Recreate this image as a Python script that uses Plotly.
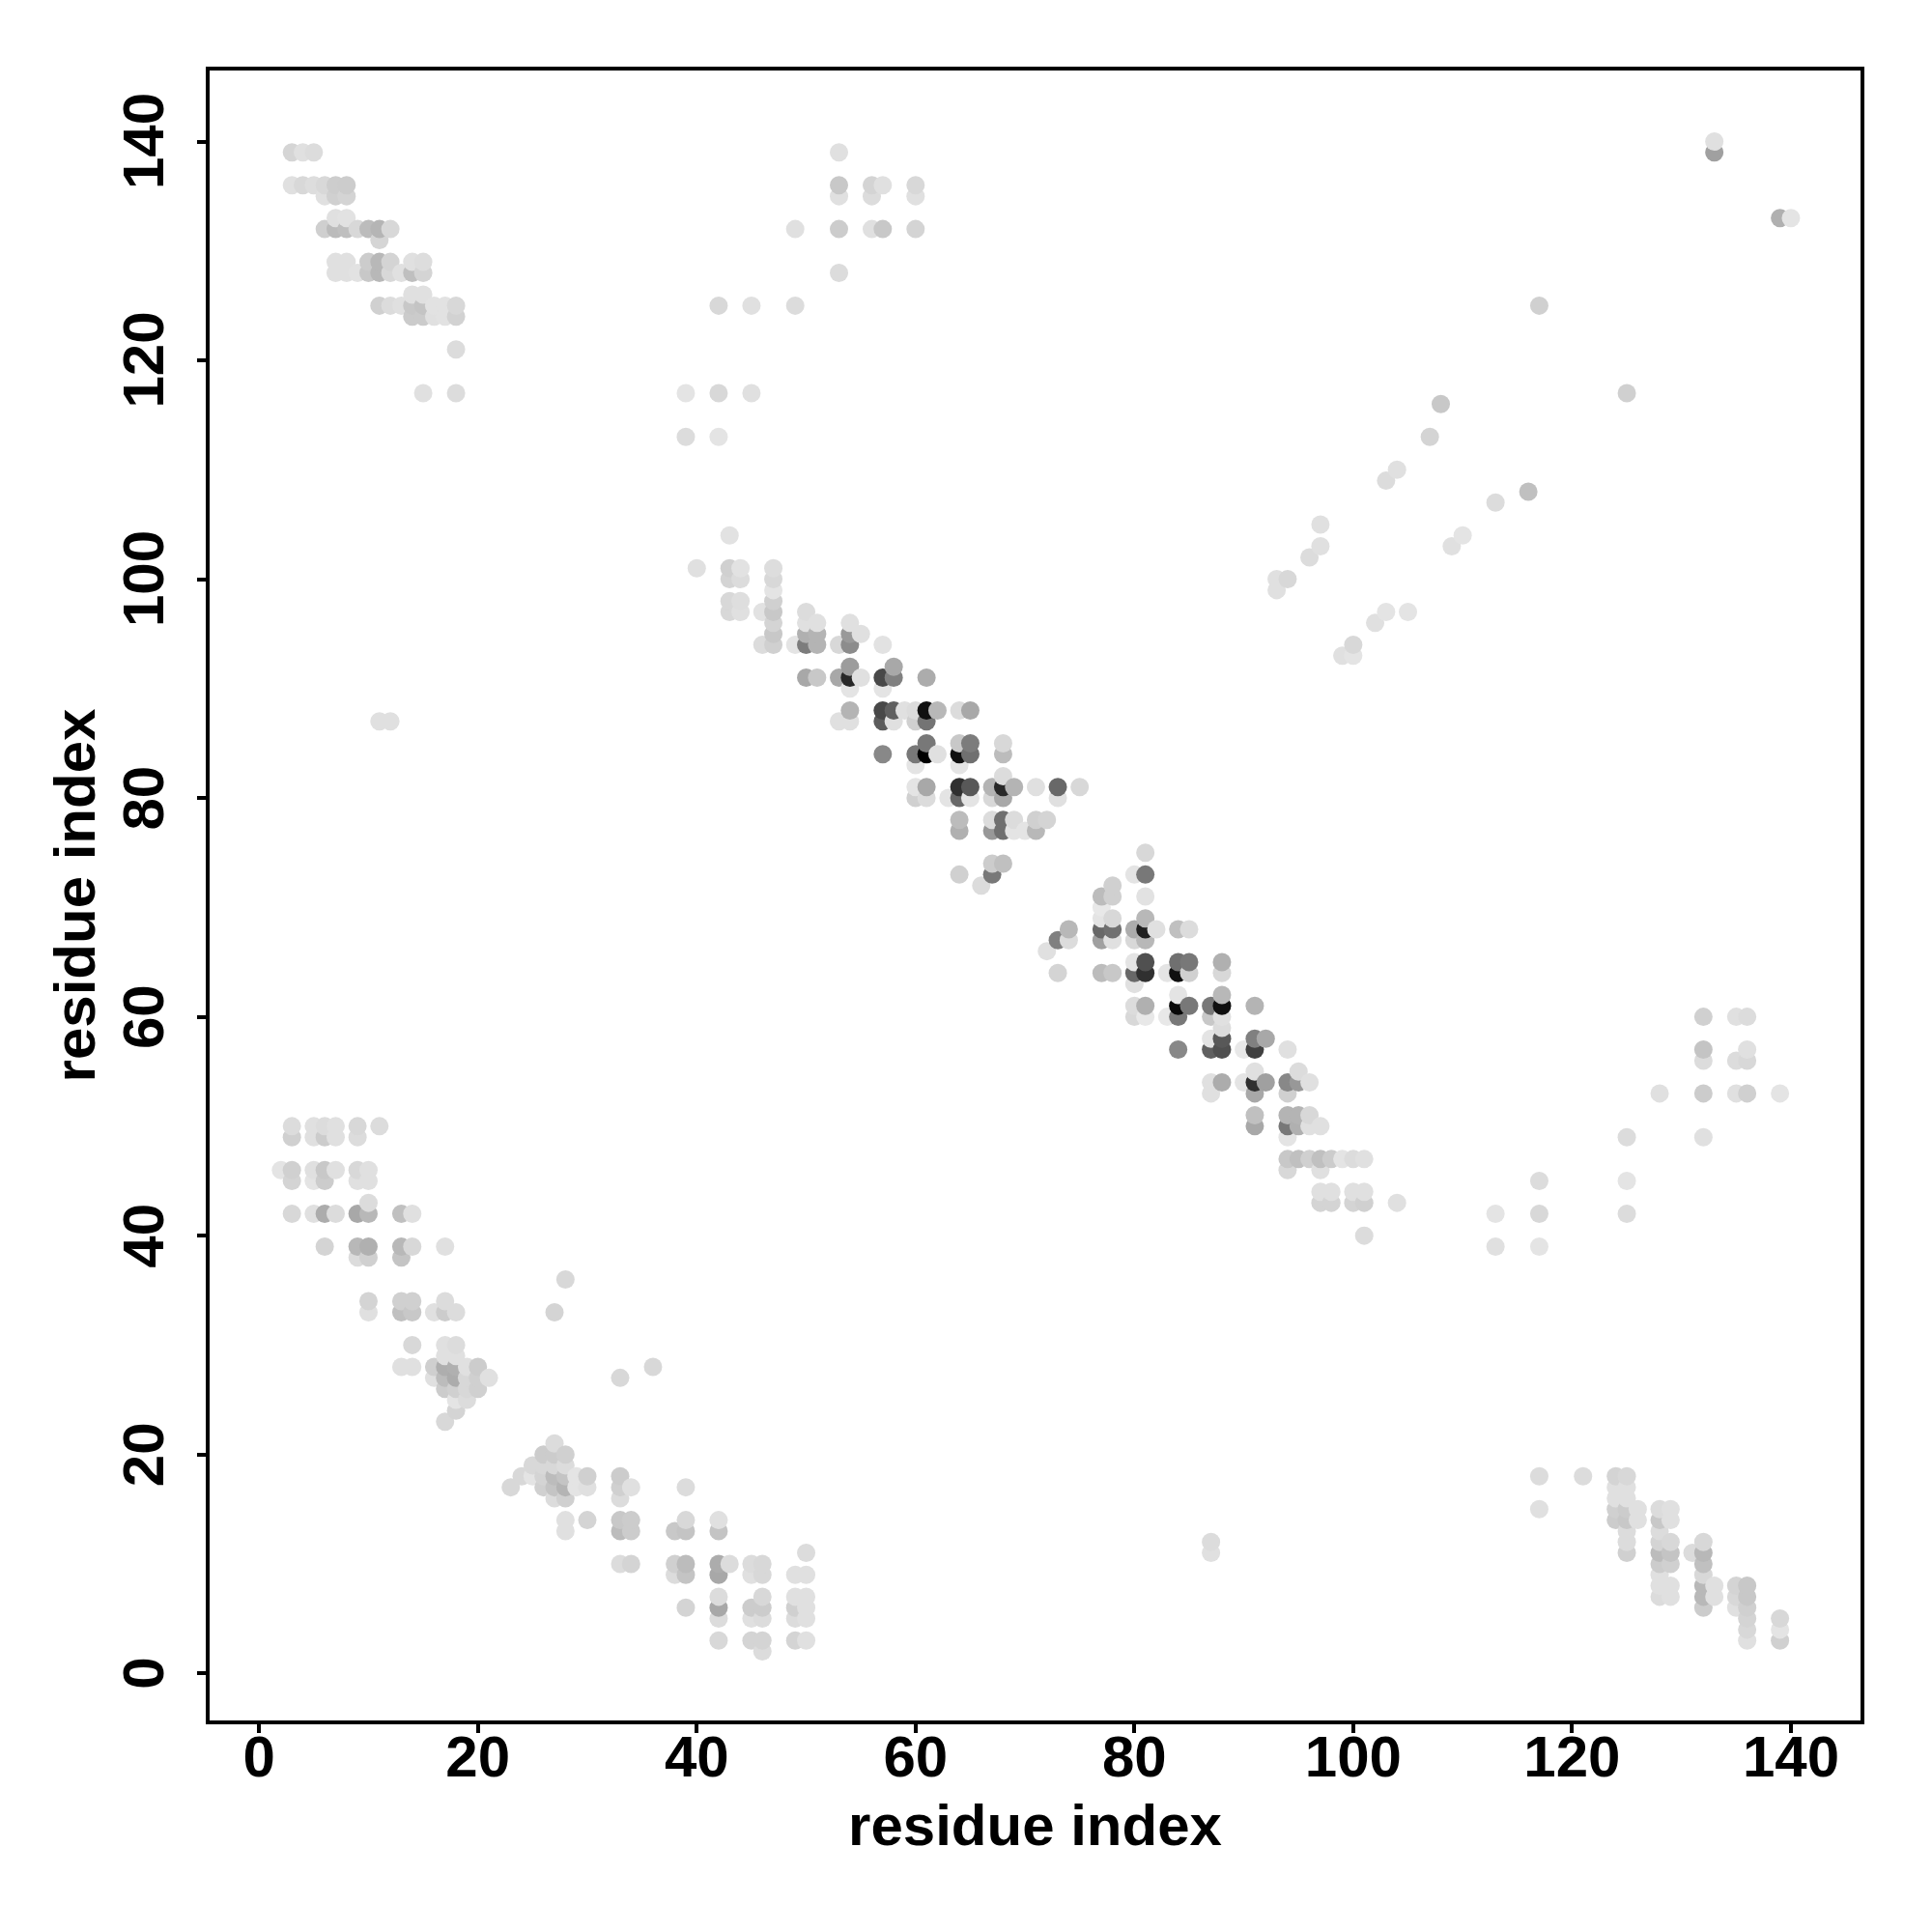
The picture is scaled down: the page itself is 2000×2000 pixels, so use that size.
import plotly.graph_objects as go

FONT = "Liberation Sans"
TICKS = [0, 20, 40, 60, 80, 100, 120, 140]
AXIS_TITLE = "<b>residue index</b>"

# gray level of every contact is stored with its residue pair
upper_left_x = [3,4,5, 3,4,5,6,7,8, 6,7,8, 7,8, 6,7,8,9,10,11,12, 11,
                7,8,10,11,12,14,15, 7,8,9,10,11,12,13,14,15, 14,15,
                11,12,13,14,15,16,17,18, 14,15,16,17,18, 18, 15,18]
upper_left_y = [139,139,139, 136,136,136,136,136,136, 135,135,135, 133,133,
                132,132,132,132,132,132,132, 131,
                129,129,129,129,129,129,129, 128,128,128,128,128,128,128,128,128, 126,126,
                125,125,125,125,125,125,125,125, 124,124,124,124,124, 121, 117,117]
upper_left_g = [0xd5,0xe0,0xdc, 0xe0,0xd8,0xdd,0xd8,0xcd,0xcc, 0xe0,0xd0,0xd4, 0xe0,0xe2,
                0xcf,0xbb,0xbf,0xd8,0xbc,0xb5,0xd8, 0xd5,
                0xe0,0xe0,0xcc,0xb8,0xd4,0xe0,0xdd, 0xe0,0xe0,0xe2,0xc8,0xb8,0xd8,0xe0,0xbf,0xd4, 0xe0,0xe0,
                0xd0,0xdc,0xe0,0xc8,0xc4,0xe2,0xe2,0xd8, 0xcb,0xcb,0xe0,0xe2,0xd2, 0xdc, 0xe0,0xdc]

diag_a_x = [43, 40,43,44,47, 43,44,47, 47, 43,44,47, 43,44,46,47,50, 47,50,51,54,
            47,50,51,54,55, 46,47,49,50,51,53,54,57, 54,58,
            50,51,53,54,55,57,58,61, 54,57, 54,57,58,59,60,61,62,64,65,
            53,54,57,58,60,61, 61,64,65,68, 57,60,61,62,64,65,68, 60,64, 68,
            60,61,64,65,67,68,69,71,73,75, 60,61,63,64,65,67,68,73,
            64,67,68,69,71,72, 64,67,68,69,70,71, 67,68, 64,67, 66]
diag_a_y = [104, 101,101,101,101, 100,100,100, 99, 98,98,98, 97,97,97,97,97, 96,96,96,96,
            95,95,95,95,95, 94,94,94,94,94,94,94,94, 92,92,
            91,91,91,91,91,91,91,91, 90,90, 88,88,88,88,88,88,88,88,88,
            87,87,87,87,87,87, 85,85,85,85, 84,84,84,84,84,84,84, 83,83, 82,
            81,81,81,81,81,81,81,81,81,81, 80,80,80,80,80,80,80,80,
            78,78,78,78,78,78, 77,77,77,77,77,77, 74,74, 73,73, 72]
diag_a_g = [0xe2, 0xe0,0xd0,0xe2,0xdd, 0xd4,0xdc,0xd8, 0xe4, 0xd8,0xde,0xd0, 0xd8,0xe0,0xe2,0xc8,0xdc, 0xd4,0xe0,0xe0,0xe0,
            0xc8,0xb0,0xb4,0x99,0xe0, 0xdc,0xd0,0xe4,0x7c,0xb4,0xd8,0x8c,0xe2, 0x9c,0xa8,
            0xa8,0xc8,0xa8,0x28,0xe0,0x48,0x80,0xac, 0xe4,0xe4, 0xb4,0x48,0x60,0xe0,0xdc,0x10,0xb8,0xdc,0xa8,
            0xe0,0xe0,0x5c,0xe0,0xd0,0x74, 0x78,0xc8,0x7c,0xd8, 0x88,0x78,0x00,0xe0,0x10,0x70,0xbc, 0xe4,0xe4, 0xdc,
            0xe4,0xa8,0x30,0x58,0xb4,0x28,0xb4,0xe0,0x68,0xd8, 0xd0,0xdc,0xe4,0x68,0xe4,0xd8,0xa8,0xe0,
            0xbc,0xdc,0x70,0xdc,0xd0,0xd4, 0xb0,0x98,0x70,0xe4,0xe4,0xb8, 0xcc,0xc0, 0xd0,0x78, 0xdc]

diag_b_x = [81, 80,81, 78, 77,78,81, 77, 77,78,81, 74,77,78,80,81,82,84,85, 73,74,77,78,80,81, 72,
            80,81,84,85,88, 73,77,78,80,81,83,84,85,88, 80, 84,88,
            80,81,84,85,87,88,91, 80,81,83,84,87,88, 88, 87,88,91,92,
            84,87,88,90,91,94, 91,95, 87,88,90,91,92,94,95,96, 87,91,94,
            91,94,95,96, 91,94,95,96,97, 94, 94,95,96,97,98,99,100,101, 94,97,
            97,98,100,101, 97,98,100,101,104, 101]
diag_b_y = [75, 73,73, 72, 71,71,71, 70, 69,69,69, 68,68,68,68,68,68,68,68, 67,67,67,67,67,67, 66,
            65,65,65,65,65, 64,64,64,64,64,64,64,64,64, 63, 62,62,
            61,61,61,61,61,61,61, 60,60,60,60,60,60, 59, 58,58,58,58,
            57,57,57,57,57,57, 55,55, 54,54,54,54,54,54,54,54, 53,53,53,
            51,51,51,51, 50,50,50,50,50, 49, 47,47,47,47,47,47,47,47, 46,46,
            44,44,44,44, 43,43,43,43,43, 40]
diag_b_g = [0xd8, 0xe4,0x78, 0xd0, 0xbc,0xd0,0xe2, 0xe8, 0xe4,0xd8,0xb8, 0xb8,0x68,0x70,0xac,0x20,0xe0,0xc0,0xdc, 0x80,0xdc,0xa0,0xe0,0xd8,0xb8, 0xe0,
            0xe4,0x50,0x70,0x78,0xb0, 0xd4,0xbc,0xc8,0x68,0x30,0xe4,0x10,0xd0,0xd8, 0xe0, 0xe4,0xb8,
            0xdc,0xb0,0x08,0x78,0x78,0x10,0xb4, 0xd8,0xe8,0xe8,0x78,0xc8,0xe0, 0xdc, 0xe4,0x58,0x80,0xa8,
            0x88,0x60,0x50,0xe8,0x40,0xe0, 0xe0,0xdc, 0xe0,0xac,0xe4,0x30,0xa0,0x88,0x98,0xe0, 0xe0,0xa8,0xd0,
            0xc0,0xb4,0xb4,0xd8, 0xa8,0x78,0xb0,0xe0,0xe0, 0xe4, 0xc8,0xc0,0xd0,0xc0,0xcc,0xe4,0xdc,0xe0, 0xd8,0xe0,
            0xe0,0xe0,0xe0,0xe0, 0xd4,0xd4,0xd4,0xd0,0xe0, 0xdc]

lower_left_x = [3,5,6,7,9,11, 3,5,6,7,9, 2,3,5,6,7,9,10, 3,5,6,9,10, 10,
                3,5,6,7,9,10,13,14, 6,9,10,13,14,17, 9,10,13,
                10,13,14,17, 10,13,14,16,17,18, 28, 27,
                14,17,18, 17,18, 13,14,16,17,18,19,20,36, 16,17,18,19,20,21,33,
                17,18,19,20, 18,19, 18, 17]
lower_left_y = [50,50,50,50,50,50, 49,49,49,49,49, 46,46,46,46,46,46,46, 45,45,45,45,45, 43,
                42,42,42,42,42,42,42,42, 39,39,39,39,39,39, 38,38,38,
                34,34,34,34, 33,33,33,33,33,33, 36, 33,
                30,30,30, 29,29, 28,28,28,28,28,28,28,28, 27,27,27,27,27,27,27,
                26,26,26,26, 25,25, 24, 23]
lower_left_g = [0xdc,0xe0,0xdc,0xe0,0xd8,0xdc, 0xd0,0xe0,0xcc,0xe0,0xdc, 0xe4,0xd0,0xe0,0xc8,0xe0,0xd8,0xe0, 0xd4,0xe4,0xcc,0xe0,0xe0, 0xdc,
                0xd8,0xe0,0xac,0xdc,0xa8,0xb8,0xc0,0xe0, 0xd4,0xb8,0xb0,0xb8,0xd8,0xe0, 0xdc,0xd0,0xc4,
                0xd4,0xd0,0xd0,0xdc, 0xe0,0xc0,0xc8,0xe0,0xcc,0xdc, 0xd8, 0xd4,
                0xd8,0xe0,0xdc, 0xe0,0xe0, 0xe0,0xe0,0xcf,0xae,0xb0,0xe0,0xcc,0xd8, 0xe0,0xbc,0xac,0xd8,0xd0,0xe0,0xd8,
                0xcc,0xd0,0xd8,0xd0, 0xe4,0xdc, 0xd4, 0xd8]

lower_mid_x = [27, 26,27,28, 25,26,27,28, 24,25,26,27,28,29,30,33, 23,26,27,28,29,30,33,34,39, 27,28,33,
               28,30,33,34,39,42, 28,33,34,38,39,42, 50,
               33,34,38,39,42,43,45,46, 38,39,42,45,46,49,50,
               42,46,49,50, 39,42,45,46,49,50, 42,45,46,49,50, 42,45,46,49,50, 46, 87, 87]
lower_mid_y = [21, 20,20,20, 19,19,19,19, 18,18,18,18,18,18,18,18, 17,17,17,17,17,17,17,17,17, 16,16,16,
               14,14,14,14,14,14, 13,13,13,13,13,13, 11,
               10,10,10,10,10,10,10,10, 9,9,9,9,9,9,9,
               7,7,7,7, 6,6,6,6,6,6, 5,5,5,5,5, 3,3,3,3,3, 2, 12, 11]
lower_mid_g = [0xdc, 0xcc,0xcc,0xd0, 0xd8,0xd8,0xd8,0xdc, 0xd8,0xe4,0xd4,0xbc,0xc4,0xe4,0xd0,0xcc, 0xd8,0xd0,0xc4,0xb4,0xe4,0xe0,0xd0,0xe0,0xdc, 0xdc,0xd0,0xdc,
               0xe0,0xd4,0xc8,0xcc,0xd8,0xe0, 0xe0,0xbc,0xcc,0xc8,0xc4,0xc4, 0xdc,
               0xdc,0xd4,0xd0,0xbc,0xac,0xdc,0xdc,0xd8, 0xdc,0xc4,0xa8,0xe0,0xd8,0xe0,0xe0,
               0xdc,0xd8,0xe0,0xe0, 0xd4,0xa8,0xcc,0xcc,0xd0,0xe0, 0xdc,0xe0,0xdc,0xdc,0xe0, 0xd8,0xd4,0xd4,0xd4,0xe0, 0xdc, 0xdc, 0xe0]

lower_right_x = [117,121,124,125, 124,125, 124,125, 117,124,125,126,128,129, 124,125,126,128,129, 125,128,
                 125,128,129,132, 125,128,129,131,132, 128,129,132, 128,132,
                 128,129,132,133,135,136, 128,129,132,133,135,136, 132,135,136,
                 136,139, 136,139, 136,139]
lower_right_y = [18,18,18,18, 17,17, 16,16, 15,15,15,15,15,15, 14,14,14,14,14, 13,13,
                 12,12,12,12, 11,11,11,11,11, 10,10,10, 9,9,
                 8,8,8,8,8,8, 7,7,7,7,7,7, 6,6,6,
                 5,5, 4,4, 3,3]
lower_right_g = [0xdc,0xdc,0xd4,0xd8, 0xe0,0xe0, 0xe0,0xe0, 0xe0,0xd0,0xcc,0xe0,0xdc,0xe0, 0xcc,0xc8,0xe0,0xc8,0xe0, 0xdc,0xdc,
                 0xdc,0xd4,0xd8,0xd8, 0xd0,0xbc,0xc4,0xdc,0xb8, 0xcc,0xd0,0xc0, 0xe0,0xd8,
                 0xe0,0xe0,0xb8,0xe0,0xd4,0xc8, 0xdc,0xe0,0xb8,0xe0,0xd8,0xc8, 0xcc,0xe0,0xd0,
                 0xd4,0xd8, 0xd8,0xe4, 0xe0,0xd0]

upper_mid_x = [53, 53,56,57,60, 53,56,60, 49,53,56,57,60, 53, 42,45,49, 39,42,45, 39,42, 11,12]
upper_mid_y = [139, 136,136,136,136, 135,135,135, 132,132,132,132,132, 128, 125,125,125, 117,117,117, 113,113, 87,87]
upper_mid_g = [0xe0, 0xc8,0xd4,0xe0,0xd8, 0xe0,0xdc,0xe0, 0xe0,0xcc,0xe0,0xc8,0xd4, 0xdc, 0xd8,0xe0,0xdc, 0xe4,0xd8,0xe0, 0xdc,0xe4, 0xe0,0xe0]

upper_right_x = [93,94, 93, 96, 97, 97, 99,100, 100, 102, 103,105, 103, 104, 107, 108, 109, 110, 113, 116, 117, 125, 133, 133, 139,140]
upper_right_y = [100,100, 99, 102, 105, 103, 93,93, 94, 96, 97,97, 109, 110, 113, 116, 103, 104, 107, 108, 125, 117, 140, 139, 133,133]
upper_right_g = [0xe0,0xd8, 0xe0, 0xdc, 0xe0, 0xe0, 0xe0,0xe4, 0xd8, 0xe0, 0xe4,0xe4, 0xdc, 0xe0, 0xd4, 0xc8, 0xe0, 0xe4, 0xdc, 0xc0, 0xd0, 0xd0, 0xe0, 0xa0, 0xb0,0xe4]

mid_right_x = [132,135,136, 132,136, 132,135,136, 128,132,135,136,139, 125,132, 117,125, 113,117,125, 113,117]
mid_right_y = [60,60,60, 57,57, 56,56,56, 53,53,53,53,53, 49,49, 45,45, 42,42,42, 39,39]
mid_right_g = [0xd0,0xe0,0xdc, 0xc4,0xe0, 0xdc,0xdc,0xd8, 0xe0,0xcc,0xe0,0xd0,0xe4, 0xdc,0xe0, 0xdc,0xe4, 0xe4,0xd8,0xdc, 0xe0,0xe4]

regions = [
    (upper_left_x, upper_left_y, upper_left_g),
    (diag_a_x, diag_a_y, diag_a_g),
    (diag_b_x, diag_b_y, diag_b_g),
    (lower_left_x, lower_left_y, lower_left_g),
    (lower_mid_x, lower_mid_y, lower_mid_g),
    (lower_right_x, lower_right_y, lower_right_g),
    (upper_mid_x, upper_mid_y, upper_mid_g),
    (upper_right_x, upper_right_y, upper_right_g),
    (mid_right_x, mid_right_y, mid_right_g),
]
points = sorted(p for xs, ys, gs in regions for p in zip(xs, ys, gs, strict=True))

fig = go.Figure(go.Scatter(
    x=[p[0] for p in points],
    y=[p[1] for p in points],
    mode="markers",
    marker=dict(size=19, color=[f"rgb({p[2]},{p[2]},{p[2]})" for p in points], line=dict(width=0)),
    hoverinfo="x+y",
))

axis_common = dict(
    tickmode="array", tickvals=TICKS,
    ticks="outside", ticklen=9, tickwidth=3.5, tickcolor="black",
    showline=True, linecolor="black", linewidth=3.5, mirror=True,
    showgrid=False, zeroline=False,
    tickfont=dict(family=FONT, size=60, color="black"),
)
fig.update_xaxes(range=[-4.52, 146.36], ticktext=[f"<b>{t}</b>" for t in TICKS], ticklabelstandoff=-27,
                 title=dict(text=AXIS_TITLE, font=dict(family=FONT, size=60, color="black"), standoff=18),
                 **axis_common)
fig.update_yaxes(range=[-4.31, 146.49], ticktext=[""] * len(TICKS),
                 title=dict(text=AXIS_TITLE, font=dict(family=FONT, size=60, color="black"), standoff=75),
                 **axis_common)
# rotated y tick labels, centred on their ticks
for t in TICKS:
    fig.add_annotation(text=f"<b>{t}</b>", x=0, xref="paper", y=t, yref="y", textangle=-90,
                       xshift=-68.5, xanchor="center", yanchor="middle", showarrow=False,
                       font=dict(family=FONT, size=60, color="black"))
fig.update_layout(
    width=2000, height=2000, showlegend=False,
    paper_bgcolor="white", plot_bgcolor="white",
    margin=dict(l=216.5, r=74, t=72.8, b=218.5, autoexpand=False),
    font=dict(family=FONT),
)
fig.write_html("out.html", config={"displayModeBar": False}, post_script="document.body.style.margin='0';")
